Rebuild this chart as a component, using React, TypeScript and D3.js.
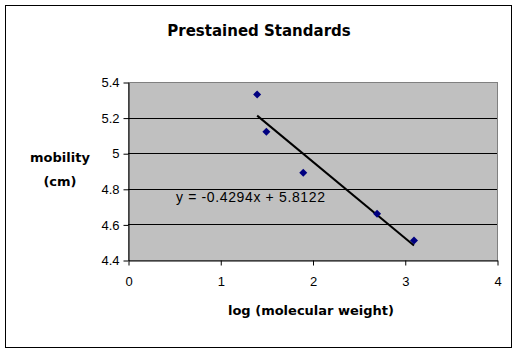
import React, { useEffect, useRef } from 'react';
import * as d3 from 'd3';

// log (molecular weight) vs mobility (cm)
const logWeights = [1.4, 1.5, 1.9, 2.7, 3.1];
const mobility = [5.33, 5.12, 4.89, 4.66, 4.51];
const xTicks = [0, 1, 2, 3, 4];
const yTicks = [4.4, 4.6, 4.8, 5, 5.2, 5.4];
const trendSlope = -0.4294;
const trendIntercept = 5.8122;

const W = 518;
const H = 353;

export default function App() {
  const svgRef = useRef<SVGSVGElement>(null);

  useEffect(() => {
    if (!svgRef.current) return;
    const svg = d3.select(svgRef.current);
    svg.selectAll('*').remove();

    const plot = { left: 128, right: 497, top: 82, bottom: 260 };

    const x = d3.scaleLinear().domain([0, 4]).range([plot.left, plot.right]);
    const y = d3.scaleLinear().domain([4.4, 5.4]).range([plot.bottom, plot.top]);

    // outer frame
    svg.append('rect')
      .attr('x', 5.5).attr('y', 5.5)
      .attr('width', 506).attr('height', 342)
      .attr('fill', '#fff').attr('stroke', '#000');

    svg.append('text')
      .attr('x', 259).attr('y', 36)
      .attr('text-anchor', 'middle')
      .attr('font-family', 'Verdana, "DejaVu Sans", sans-serif')
      .attr('font-weight', 'bold')
      .attr('font-size', 15)
      .text('Prestained Standards');

    // plot background
    svg.append('rect')
      .attr('x', plot.left + 0.5).attr('y', plot.top + 0.5)
      .attr('width', plot.right - plot.left).attr('height', plot.bottom - plot.top)
      .attr('fill', '#c0c0c0').attr('stroke', '#808080');

    // gridlines
    svg.append('g')
      .selectAll('line')
      .data(yTicks.filter(t => t > 4.4 && t < 5.4))
      .join('line')
      .attr('x1', plot.left).attr('x2', plot.right)
      .attr('y1', d => Math.round(y(d)) + 0.5).attr('y2', d => Math.round(y(d)) + 0.5)
      .attr('stroke', '#000');

    const yAxis = d3.axisLeft(y).tickValues(yTicks).tickSize(5).tickSizeOuter(0).tickFormat(d => String(d));
    const gy = svg.append('g')
      .attr('transform', `translate(${plot.left + 0.5},0.5)`)
      .call(yAxis);
    gy.selectAll('text')
      .attr('font-family', 'Arial, "Liberation Sans", sans-serif')
      .attr('font-size', 13)
      .attr('fill', '#000')
      .attr('x', -9);

    const xAxis = d3.axisBottom(x).tickValues(xTicks).tickSize(5).tickSizeOuter(0).tickFormat(d => String(d));
    const gx = svg.append('g')
      .attr('transform', `translate(0.5,${plot.bottom + 0.5})`)
      .call(xAxis);
    gx.selectAll('text')
      .attr('font-family', 'Arial, "Liberation Sans", sans-serif')
      .attr('font-size', 13)
      .attr('fill', '#000')
      .attr('y', 16);
    [gx, gy].forEach(g => {
      g.select('.domain').attr('stroke', '#000');
      g.selectAll('.tick line').attr('stroke', '#000');
    });

    // trendline
    const xMin = d3.min(logWeights)!;
    const xMax = d3.max(logWeights)!;
    const trend = [xMin, xMax].map(v => [v, trendSlope * v + trendIntercept] as [number, number]);
    svg.append('path')
      .datum(trend)
      .attr('d', d3.line<[number, number]>().x(d => x(d[0])).y(d => y(d[1])))
      .attr('stroke', '#000').attr('stroke-width', 2).attr('fill', 'none');

    // points (square diamonds)
    svg.append('g')
      .selectAll('path')
      .data(logWeights.map((v, i) => [v, mobility[i]] as [number, number]))
      .join('path')
      .attr('d', 'M0,-4L4,0L0,4L-4,0Z')
      .attr('transform', d => `translate(${x(d[0])},${y(d[1])})`)
      .attr('fill', '#000080');

    svg.append('text')
      .attr('x', 176).attr('y', 202)
      .attr('font-family', 'Arial, "Liberation Sans", sans-serif')
      .attr('font-size', 14)
      .attr('textLength', 149)
      .attr('lengthAdjust', 'spacing')
      .text(`y = ${trendSlope}x + ${trendIntercept}`);

    const bold = (t: string, xx: number, yy: number) =>
      svg.append('text')
        .attr('x', xx).attr('y', yy)
        .attr('text-anchor', 'middle')
        .attr('font-family', 'Verdana, "DejaVu Sans", sans-serif')
        .attr('font-weight', 'bold')
        .attr('font-size', 13)
        .text(t);
    bold('mobility', 60, 162);
    bold('(cm)', 60, 186);
    bold('log (molecular weight)', 311, 315);
  }, []);

  return (
    <svg
      ref={svgRef}
      width={W}
      height={H}
      style={{ position: 'absolute', left: 0, top: 0 }}
    />
  );
}
